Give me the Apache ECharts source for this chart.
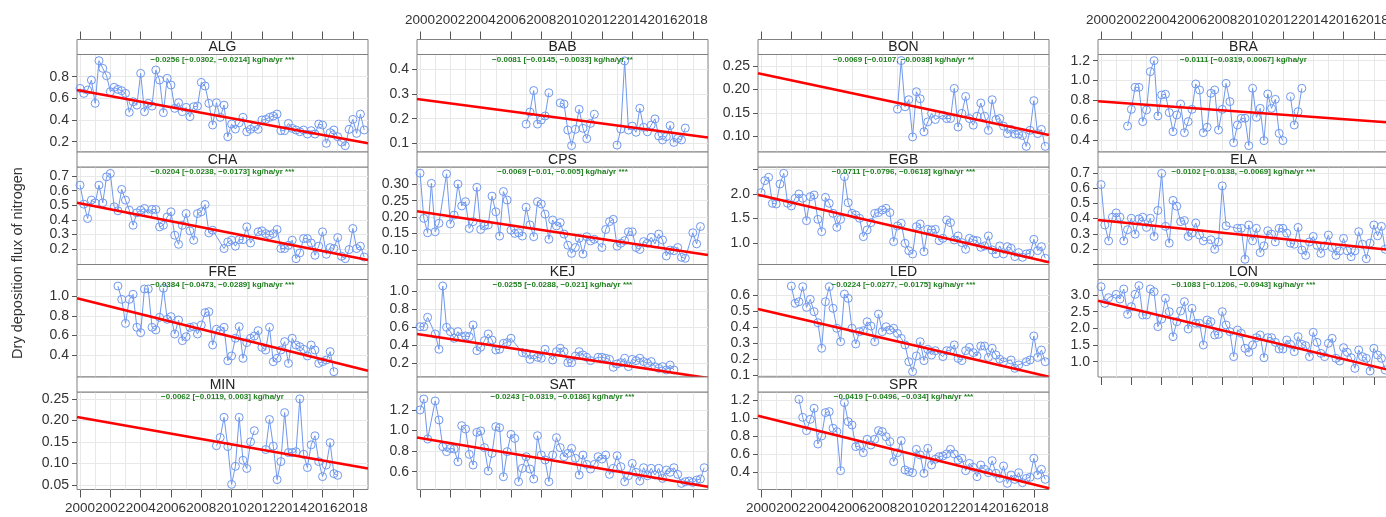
<!DOCTYPE html>
<html><head><meta charset="utf-8">
<script src="https://cdn.jsdelivr.net/npm/echarts@6/dist/echarts.min.js"></script>
<style>html,body{margin:0;padding:0;background:#fff}#c{width:1386px;height:517px}</style>
</head><body><div id="c"></div>
<script>
// ---------------- DATA ----------------
const stations = ['ALG','CHA','FRE','MIN','BAB','CPS','KEJ','SAT','BON','EGB','LED','SPR','BRA','ELA','LON'];
const trendText = [
 '\u22120.0256 [\u22120.0302, \u22120.0214] kg/ha/yr ***',
 '\u22120.0204 [\u22120.0238, \u22120.0173] kg/ha/yr ***',
 '\u22120.0384 [\u22120.0473, \u22120.0289] kg/ha/yr ***',
 '\u22120.0062 [\u22120.0119, 0.003] kg/ha/yr',
 '\u22120.0081 [\u22120.0145, \u22120.0033] kg/ha/yr **',
 '\u22120.0069 [\u22120.01, \u22120.005] kg/ha/yr ***',
 '\u22120.0255 [\u22120.0288, \u22120.021] kg/ha/yr ***',
 '\u22120.0243 [\u22120.0319, \u22120.0186] kg/ha/yr ***',
 '\u22120.0069 [\u22120.0107, \u22120.0038] kg/ha/yr **',
 '\u22120.0711 [\u22120.0796, \u22120.0618] kg/ha/yr ***',
 '\u22120.0224 [\u22120.0277, \u22120.0175] kg/ha/yr ***',
 '\u22120.0419 [\u22120.0496, \u22120.034] kg/ha/yr ***',
 '\u22120.0111 [\u22120.0319, 0.0067] kg/ha/yr',
 '\u22120.0102 [\u22120.0138, \u22120.0069] kg/ha/yr ***',
 '\u22120.1083 [\u22120.1206, \u22120.0943] kg/ha/yr ***'
];
// trend line value at the left (1999.8) and right (2019.0) edge
const trendStart = [0.677,0.518,0.977,0.208,0.280,0.218,0.526,0.932,0.234,1.986,0.5125,1.025,0.790,0.391,2.83];
const trendEnd   = [0.185,0.127,0.244,0.088,0.124,0.084,0.036,0.454,0.103,0.615,0.089,0.223,0.577,0.195,0.75];
// y axis ranges
const yMin = [0.105,0.096,0.18,0.039,0.065,0.055,0.048,0.427,0.067,0.57,0.0875,0.21,0.279,0.099,0.54];
const yMax = [1.005,0.762,1.167,0.266,0.46,0.353,1.131,1.375,0.274,2.547,0.697,1.288,1.262,0.738,3.465];
const yLabels = [
 [0.2,0.4,0.6,0.8],[0.2,0.3,0.4,0.5,0.6,0.7],[0.4,0.6,0.8,1.0],[0.05,0.10,0.15,0.20,0.25],
 [0.1,0.2,0.3,0.4],[0.10,0.15,0.20,0.25,0.30],[0.2,0.4,0.6,0.8,1.0],[0.6,0.8,1.0,1.2],
 [0.10,0.15,0.20,0.25],[1.0,1.5,2.0],[0.1,0.2,0.3,0.4,0.5,0.6],[0.4,0.6,0.8,1.0,1.2],
 [0.4,0.6,0.8,1.0,1.2],[0.2,0.3,0.4,0.5,0.6,0.7],[1.0,1.5,2.0,2.5,3.0]
];
const yExtraTicks = [[],[],[],[],[],[],[],[],[],[2.5],[],[],[],[0.1],[]];
const yDecimals = [1,1,1,2,1,2,1,1,2,1,1,1,1,1,1];
const xTickYears = [2000,2002,2004,2006,2008,2010,2012,2014,2016,2018];
const gridYears = [2000,2001,2002,2003,2004,2005,2006,2007,2008,2009,2010,2011,2012,2013,2014,2015,2016,2017,2018];

// quarter index since 2000 (q) and value (v); null = gap
const ALG_q = [0,1,2,3,4,5,6,7,8,9,10,11,12,13,14,15,16,17,18,19,20,21,22,23,24,25,26,27,28,29,30,31,32,33,34,35,36,37,38,39,40,41,42,43,44,45,46,47,48,49,50,51,52,53,54,55,56,57,58,59,60,61,62,63,64,65,66,67,68,69,70,71,72,73,74,75];
const ALG_v = [0.692,0.646,0.677,0.769,0.554,0.948,0.877,0.809,0.662,0.702,0.683,0.671,0.646,0.471,0.569,0.538,0.831,0.477,0.554,0.529,0.862,0.769,0.468,0.785,0.723,0.508,0.560,0.477,0.517,0.431,0.523,0.529,0.748,0.714,0.554,0.354,0.560,0.425,0.538,0.246,0.363,0.317,0.375,0.425,0.292,0.314,0.338,0.314,0.400,0.406,0.425,0.437,0.455,0.302,0.302,0.369,0.323,0.308,0.292,0.308,0.271,0.302,0.271,0.363,0.354,0.185,0.283,0.308,0.246,0.197,0.163,0.314,0.406,0.277,0.455,0.308];
const CHA_q = [0,1,2,3,4,5,6,7,8,9,10,11,12,13,14,15,16,17,18,19,20,21,22,23,24,25,26,27,28,29,30,31,32,33,34,35,38,39,40,41,42,43,44,45,47,48,49,50,51,52,53,54,55,56,57,58,59,60,61,62,63,64,65,66,67,68,69,70,71,72,73,74,75];
const CHA_v = [0.638,0.508,0.410,0.536,0.517,0.638,0.517,0.695,0.718,0.490,0.463,0.609,0.536,0.467,0.364,0.449,0.467,0.479,0.444,0.472,0.472,0.353,0.364,0.421,0.456,0.296,0.234,0.364,0.444,0.326,0.262,0.444,0.456,0.506,0.312,0.330,0.205,0.250,0.262,0.221,0.266,0.266,0.353,0.243,0.319,0.326,0.307,0.296,0.307,0.335,0.205,0.205,0.227,0.262,0.136,0.175,0.273,0.273,0.243,0.159,0.221,0.319,0.166,0.211,0.205,0.280,0.152,0.136,0.198,0.342,0.205,0.221,0.147];
const FRE_q = [10,11,12,13,14,15,16,17,18,19,20,21,22,23,24,25,26,27,28,29,30,31,32,33,34,35,36,37,38,39,40,41,42,43,44,45,46,47,48,49,50,51,52,53,54,55,56,57,58,59,60,61,62,63,64,65,66,67];
const FRE_v = [1.101,0.966,0.723,0.966,1.017,0.683,0.629,1.071,1.071,0.683,0.656,0.784,1.078,0.764,0.791,0.615,0.757,0.548,0.588,0.683,0.690,0.615,0.706,0.831,0.841,0.504,0.663,0.649,0.683,0.345,0.393,0.572,0.690,0.369,0.528,0.572,0.595,0.649,0.480,0.453,0.683,0.335,0.369,0.453,0.538,0.318,0.572,0.504,0.487,0.460,0.393,0.504,0.453,0.318,0.335,0.352,0.437,0.234];
const MIN_q = [36,37,38,39,40,41,42,43,44,45,46,47.5,49,50,51,52,53,54,55,56,57,58,59,60,61,62,63,64,65,66,67,68];
const MIN_v = [0.141,0.160,0.207,0.139,0.051,0.093,0.207,0.107,0.088,0.150,0.176,null,0.132,0.202,0.140,0.062,0.104,0.218,0.125,0.125,0.127,0.250,0.121,0.090,0.143,0.164,0.104,0.069,0.096,0.148,0.076,0.072];
const BAB_q = [28,29,30,31,32,33,34,35.5,37,38,39,40,41,42,43,44,45,46,49,52,53,54,55,56,57,58,59,60,61,62,63,64,65,66,67,68,69,70];
const BAB_v = [0.178,0.227,0.314,0.178,0.195,0.211,0.305,null,0.264,0.259,0.154,0.091,0.157,0.238,0.161,0.119,0.181,0.218,null,0.093,0.158,0.434,0.154,0.170,0.145,0.242,0.165,0.147,0.174,0.199,0.130,0.114,0.127,0.172,0.104,0.120,0.114,0.162];
const CPS_q = [0,1,2,3,4,5,7,8,9,10,11,12,13,14,15,16,17,18,19,20,21,22,23,24,25,26,27,28,29,30,31,32,33,34,35,36,37,38,39,40,41,42,43,44,45,46,48,49,50,51,52,53,54,55,56,57,58,59,60,61,62,63,64,65,66,67,68,69,70,72,73,74];
const CPS_v = [0.334,0.196,0.152,0.303,0.155,0.181,0.332,0.179,0.206,0.301,0.234,0.247,0.165,0.186,0.291,0.162,0.173,0.176,0.264,0.216,0.142,0.278,0.252,0.160,0.150,0.152,0.142,0.230,0.176,0.140,0.247,0.240,0.209,0.132,0.191,0.173,0.183,0.148,0.114,0.089,0.107,0.135,0.087,0.140,0.127,0.132,0.107,0.162,0.186,0.193,0.111,0.120,0.128,0.155,0.155,0.107,0.101,0.125,0.120,0.138,0.118,0.148,0.130,0.081,0.099,0.097,0.107,0.077,0.074,0.152,0.118,0.171];
const KEJ_q = [0,1,2,4,5,6,7,8,9,10,11,12,13,14,15,16,17,18,19,20,21,22,23,24,27,28,29,30,31,32,33,35,36,37,38,39,40,41,42,43,44,45,47,48,49,50,51,52,53,54,55,56,57,58,59,60,61,62,63,64,65,66,67];
const KEJ_v = [0.607,0.607,0.711,0.526,0.356,1.059,0.600,0.552,0.478,0.552,0.496,0.504,0.496,0.626,0.341,0.378,0.452,0.526,0.459,0.348,0.356,0.422,0.430,0.478,0.319,0.311,0.244,0.293,0.267,0.256,0.356,0.237,0.330,0.367,0.330,0.207,0.207,0.281,0.330,0.293,0.267,0.230,0.267,0.267,0.256,0.244,0.156,0.193,0.207,0.256,0.163,0.244,0.230,0.256,0.219,0.200,0.219,0.163,0.144,0.163,0.126,0.181,0.126];
const SAT_q = [0,1,2,4,5,6,7,8,9,10,11,12,13,14,15,16,17,18,19,20,21,22,23,24,25,26,27,28,29,30,31,32,33,34,35,36,37,38,39,40,41,42,43,44,45,46,47,48,49,50,51,52,53,54,55,56,57,58,59,60,61,62,63,64,65,66,67,68,69,70,71,72,73,74,75];
const SAT_v = [1.200,1.307,0.918,1.288,1.103,0.843,0.795,0.827,0.821,0.697,1.048,1.015,0.769,0.665,0.983,0.996,0.834,0.607,0.778,1.038,1.028,0.551,0.795,0.963,0.924,0.503,0.633,0.746,0.626,0.529,0.950,0.762,0.714,0.503,0.762,0.931,0.834,0.746,0.778,0.827,0.730,0.568,0.762,0.671,0.626,0.671,0.746,0.723,0.762,0.574,0.633,0.756,0.649,0.503,0.561,0.681,0.594,0.509,0.639,0.561,0.633,0.568,0.633,0.535,0.616,0.594,0.639,0.574,0.487,0.503,0.509,0.496,0.519,0.529,0.639];
const BON_q = [36,37,38,39,40,41,42,43,44,45,46,48,49,50,51,52,53,54,55,56,57,58,59,60,61,62,63,64,65,66,67,68,69,70,71,72,73,74,75];
const BON_v = [0.158,0.261,0.163,0.178,0.099,0.195,0.180,0.110,0.131,0.149,0.136,0.145,0.138,0.138,0.202,0.120,0.149,0.185,0.138,0.124,0.143,0.171,0.143,0.113,0.178,0.136,0.138,0.122,0.106,0.115,0.105,0.105,0.102,0.079,0.113,0.176,0.106,0.115,0.079];
const EGB_q = [0,1,2,3,4,5,6,7,8,9,10,11,12,13,14,15,16,17,18,19,20,21,22,23,24,25,26,27,28,29,30,31,32,33,34,35,36,37,38,39,40,41,42,43,44,45,46,47,48,49,50,51,52,53,54,55,56,57,58,59,60,61,62,63,64,65,66,67,68,69,70,71,72,73,74,75];
const EGB_v = [2.027,2.270,2.338,1.811,1.797,2.203,2.419,1.811,1.757,1.912,2.000,1.912,1.459,1.946,1.980,1.486,1.236,1.932,1.811,1.608,1.324,1.486,2.351,1.824,1.608,1.574,1.507,1.135,1.270,1.419,1.608,1.622,1.676,1.709,1.622,1.034,1.351,1.405,1.000,0.851,0.784,1.338,1.392,0.831,1.284,1.270,1.284,1.054,1.101,1.473,1.419,1.068,1.149,1.014,0.878,1.101,1.068,1.054,0.919,0.946,1.149,0.865,0.784,0.946,0.784,0.932,0.899,0.730,0.811,0.716,0.784,0.797,1.081,0.851,0.932,0.696];
const LED_q = [8,9,10,11,12,13,14,15,16,17,18,19,20,21,22,23,24,25,26,27,28,29,30,31,32,33,34,35,36,37,38,39,40,41,42,43,44,45,46,48,49,50,51,52,53,54,55,56,57,58,59,60,61,62,63,64,66,67,68,70,71,72,73,74,75];
const LED_v = [0.656,0.548,0.558,0.652,0.523,0.573,0.496,0.427,0.267,0.558,0.652,0.517,0.392,0.308,0.606,0.579,0.392,0.294,0.371,0.377,0.433,0.406,0.308,0.481,0.371,0.402,0.381,0.392,0.360,0.329,0.288,0.183,0.121,0.219,0.308,0.190,0.260,0.225,0.252,0.215,0.252,0.252,0.288,0.204,0.190,0.252,0.273,0.240,0.219,0.281,0.281,0.210,0.267,0.225,0.198,0.183,0.194,0.142,0.163,0.183,0.194,0.344,0.210,0.256,0.183];
const SPR_q = [10,11,12,13,14,15,16,17,18,19,20,21,22,23,24,25,26,27,28,29,30,31,32,33,34,35,36,37,38,39,40,41,42,43,44,45,46,47,48,49,50,51,52,53,54,55,56,57,58,59,60,61,62,63,64,65,66,67,68,69,70,71,72,73,74,75];
const SPR_v = [1.207,1.008,0.861,0.986,1.108,0.713,0.802,1.060,1.071,0.887,0.850,0.418,1.171,0.960,0.923,0.684,0.691,0.617,0.765,0.702,0.765,0.861,0.850,0.794,0.739,0.518,0.617,0.750,0.426,0.407,0.396,0.654,0.592,0.389,0.665,0.481,0.544,0.573,0.581,0.603,0.654,0.603,0.536,0.555,0.418,0.499,0.455,0.352,0.481,0.433,0.396,0.529,0.389,0.333,0.470,0.278,0.370,0.322,0.396,0.286,0.333,0.345,0.555,0.370,0.433,0.322];
const BRA_q = [7,8,9,10,11,12,13,14,15,16,17,18,19,20,21,22,23,24,25,26,27,28,29,30,31,32,33,34,35,36,37,38,39,40,41,42,43,44,45,46,47,48,49,50,51,52,53];
const BRA_v = [0.541,0.709,0.931,0.931,0.585,0.703,1.089,1.200,0.642,0.854,0.861,0.676,0.484,0.652,0.763,0.474,0.585,0.709,0.965,0.904,0.474,0.528,0.871,0.904,0.501,0.709,0.971,0.787,0.373,0.551,0.619,0.619,0.343,0.921,0.629,0.719,0.394,0.864,0.719,0.810,0.467,0.394,null,0.837,0.551,0.686,0.921];
const ELA_q = [0,1,2,3,4,5,6,7,8,9,10,11,12,13,14,15,16,17,18,19,20,21,22,23,24,25,26,27,29,30,31,32,33,36,37,38,39,40,41,42,43,44,45,46,47,48,49,50,51,52,53,54,55,56,57,58,59,60,61,62,63,64,65,66,67,68,69,70,71,72,73,74,75];
const ELA_v = [0.623,0.358,0.254,0.409,0.437,0.409,0.254,0.327,0.402,0.298,0.398,0.409,0.342,0.402,0.283,0.453,0.696,0.349,0.239,0.519,0.481,0.380,0.387,0.283,0.305,0.371,0.292,0.254,0.261,0.199,0.247,0.614,0.353,0.336,0.336,0.133,0.358,0.254,0.336,0.177,0.221,0.320,0.298,0.247,0.336,0.336,0.305,0.239,0.232,0.342,0.194,0.159,0.247,0.283,0.225,0.172,0.221,0.292,0.210,0.159,0.188,0.270,0.188,0.150,0.188,0.314,0.232,0.137,0.239,0.358,0.287,0.349,0.199];
const LON_q = [0,1,2,4,5,6,7,8,9,10,11,12,13,14,15,16,17,18,19,20,21,22,23,24,25,26,27,28,29,30,31,32,33,34,35,36,37,38,39,40,41,42,43,44,45,46,47,48,49,50,51,52,53,54,55,56,57,58,59,60,61,62,63,64,65,66,67,68,69,70,71,72,73,74,75];
const LON_v = [3.25,2.75,2.92,3.02,2.88,3.18,2.42,2.65,3.02,3.28,2.40,2.40,3.18,3.10,2.05,2.28,2.90,2.50,1.75,2.20,2.52,2.80,1.98,2.60,2.15,2.15,1.50,2.25,2.20,1.80,1.82,2.50,2.10,1.90,1.15,1.95,1.85,1.40,1.28,1.50,1.72,1.80,1.12,1.72,1.72,1.58,1.38,1.38,1.65,1.52,1.30,1.75,1.52,1.48,1.15,1.88,1.58,1.25,1.15,1.55,1.70,1.10,1.02,1.42,1.28,1.12,0.80,1.35,1.15,1.10,0.72,1.40,1.20,1.10,0.75];

const Q = {ALG:ALG_q,CHA:CHA_q,FRE:FRE_q,MIN:MIN_q,BAB:BAB_q,CPS:CPS_q,KEJ:KEJ_q,SAT:SAT_q,BON:BON_q,EGB:EGB_q,LED:LED_q,SPR:SPR_q,BRA:BRA_q,ELA:ELA_q,LON:LON_q};
const V = {ALG:ALG_v,CHA:CHA_v,FRE:FRE_v,MIN:MIN_v,BAB:BAB_v,CPS:CPS_v,KEJ:KEJ_v,SAT:SAT_v,BON:BON_v,EGB:EGB_v,LED:LED_v,SPR:SPR_v,BRA:BRA_v,ELA:ELA_v,LON:LON_v};

// ---------------- LAYOUT ----------------
const FONT = '"Liberation Sans", Arial, Helvetica, sans-serif';
const panelCol = [0,0,0,0,1,1,1,1,2,2,2,2,3,3,3];
const panelRow = [0,1,2,3,0,1,2,3,0,1,2,3,0,1,2];
const colRows = [4,4,4,3];
const colLeft = [77, 417, 758, 1098];
const panelW = 291, top0 = 39.5, rowStep = 112.5, stripH = 15;
const X_MIN = 1999.8, X_MAX = 2019.0;
const BORDER = '#808080', TICK = '#555', LABEL = '#333', GRIDC = '#e8e8e8';
const BLUE = '#6f98ee';

const grids=[], xAxes=[], yAxes=[], series=[], graphics=[];
stations.forEach((name,i)=>{
  const c = panelCol[i], r = panelRow[i];
  const left = colLeft[c], pTop = top0 + r*rowStep, top = pTop + stripH, h = rowStep - stripH;
  grids.push({left:left, top:top, width:panelW, height:h, show:true, borderColor:BORDER, borderWidth:1,
    backgroundColor:'transparent', containLabel:false, outerBoundsMode:'none'});
  const isTop = r === 0, isBottom = r === colRows[c]-1;
  const xa = {gridIndex:i, type:'value', min:X_MIN, max:X_MAX, axisLine:{show:false}, splitLine:{show:false}};
  const labelStyle = {fontSize:13.5, color:LABEL, fontFamily:FONT, margin:12, hideOverlap:false,
    showMinLabel:true, showMaxLabel:true, formatter:(v)=>String(Math.round(v)), customValues:xTickYears};
  if (isTop) {
    xa.position = 'top'; xa.offset = stripH;
    xa.axisTick = {show:true, length:8, customValues:xTickYears, lineStyle:{color:TICK}};
    xa.axisLabel = Object.assign({show: c%2===1}, labelStyle);
  } else if (isBottom) {
    xa.position = 'bottom';
    xa.axisTick = {show:true, length:8, customValues:xTickYears, lineStyle:{color:TICK}};
    xa.axisLabel = Object.assign({show: c%2===0}, labelStyle);
  } else {
    xa.axisTick = {show:false}; xa.axisLabel = {show:false};
  }
  xAxes.push(xa);
  const dec = yDecimals[i];
  const tickVals = yLabels[i].concat(yExtraTicks[i]).sort((a,b)=>a-b);
  yAxes.push({gridIndex:i, type:'value', min:yMin[i], max:yMax[i], position:'left',
    axisLine:{show:false}, splitLine:{show:false},
    axisTick:{show:true, length:5, customValues:tickVals, lineStyle:{color:TICK}},
    axisLabel:{show:true, customValues:yLabels[i], formatter:(v)=>Number(v).toFixed(dec), fontSize:14, color:LABEL, fontFamily:FONT, margin:8, hideOverlap:false}
  });
  // background grid lines
  const ml = gridYears.map(y=>({xAxis:y})).concat(tickVals.map(v=>({yAxis:v})));
  series.push({type:'line', xAxisIndex:i, yAxisIndex:i, data:[], z:1, silent:true,
    markLine:{silent:true, z:1, symbol:['none','none'], label:{show:false}, animation:false,
      lineStyle:{color:GRIDC, width:1, type:'solid'}, emphasis:{disabled:true}, data:ml}});
  // observations
  const q = Q[name], v = V[name];
  const pts = q.map((qq,k)=>[2000 + qq/4, v[k]===null ? '-' : v[k]]);
  series.push({type:'line', xAxisIndex:i, yAxisIndex:i, data:pts, z:6, connectNulls:false,
    symbol:'circle', symbolSize:8, showAllSymbol:true,
    itemStyle:{color:'rgba(255,255,255,0)', borderColor:BLUE, borderWidth:1},
    lineStyle:{color:BLUE, width:1}, emphasis:{disabled:true}});
  // trend line
  series.push({type:'line', xAxisIndex:i, yAxisIndex:i, z:7, symbol:'none', clip:true,
    data:[[X_MIN, trendStart[i]],[X_MAX, trendEnd[i]]],
    lineStyle:{color:'#ff0000', width:2.5, type:'solid'}, emphasis:{disabled:true}});
  // strip
  graphics.push({type:'rect', z:100, shape:{x:left, y:pTop, width:panelW, height:stripH},
    style:{fill:'#ffffff', stroke:BORDER, lineWidth:1}});
  graphics.push({type:'text', z:101, x:left+panelW/2, y:pTop+stripH/2+0.5,
    style:{text:name, fill:'#222', font:'14px '+FONT, align:'center', verticalAlign:'middle', textAlign:'center', textVerticalAlign:'middle'}});
  graphics.push({type:'text', z:101, x:left+panelW/2, y:top+5,
    style:{text:trendText[i], fill:'#1f7f1f', font:'bold 8px '+FONT, align:'center', verticalAlign:'middle', textAlign:'center', textVerticalAlign:'middle'}});
});
graphics.push({type:'text', z:101, x:18, y:263, rotation:Math.PI/2,
  style:{text:'Dry deposition flux of nitrogen', fill:LABEL, font:'14.5px '+FONT, align:'center', verticalAlign:'middle', textAlign:'center', textVerticalAlign:'middle'}});

const chart = echarts.init(document.getElementById('c'), null, {renderer:'canvas'});
chart.setOption({animation:false, backgroundColor:'#ffffff', grid:grids, xAxis:xAxes, yAxis:yAxes, series:series, graphic:graphics});
</script>
</body></html>
